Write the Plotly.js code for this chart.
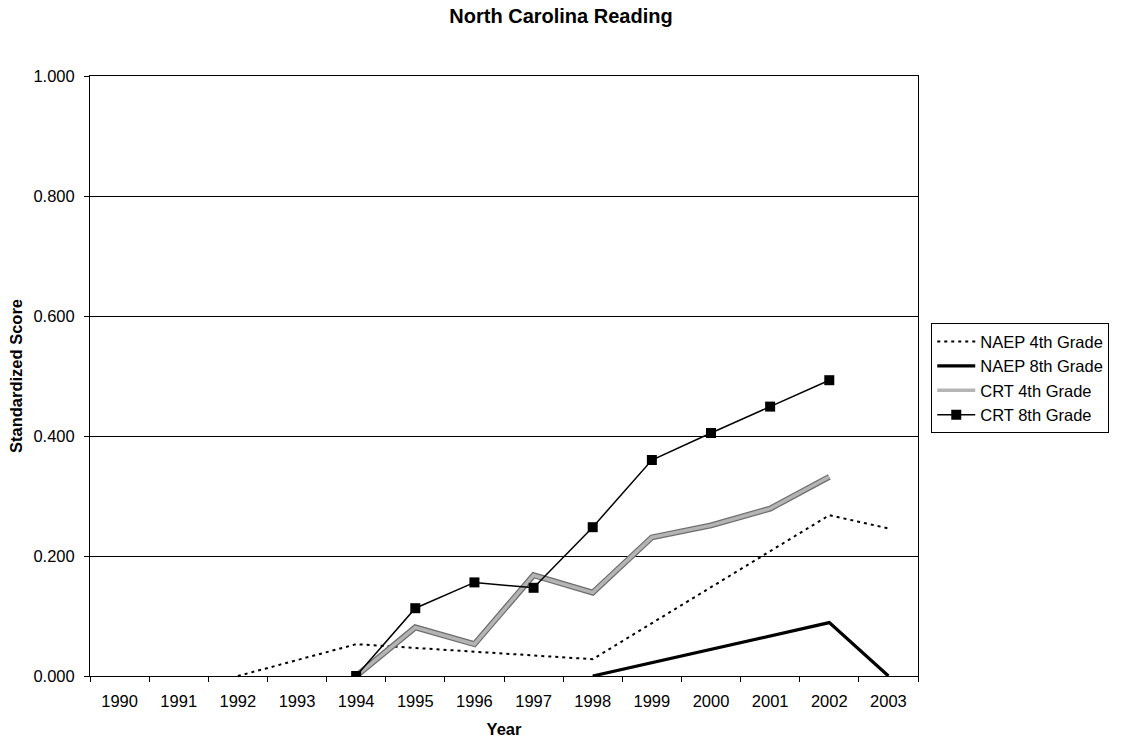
<!DOCTYPE html>
<html>
<head>
<meta charset="utf-8">
<script src="https://cdn.plot.ly/plotly-3.0.1.min.js"></script>
<style>
  html, body { margin: 0; padding: 0; background: #fff; }
  #chart { width: 1122px; height: 741px; }
</style>
</head>
<body>
<div id="chart"></div>
<script>
// Year categories shown on the x axis
const years = ['1990','1991','1992','1993','1994','1995','1996','1997','1998','1999','2000','2001','2002','2003'];

// NAEP assessment years and scores
const naep4Years = ['1992','1994','1998','2002','2003'];
const naep4Scores = [0.000, 0.053, 0.028, 0.268, 0.246];

const naep8Years = ['1998','2002','2003'];
const naep8Scores = [0.000, 0.089, 0.000];

// State criterion-referenced test scores
const crtYears = ['1994','1995','1996','1997','1998','1999','2000','2001','2002'];
const crt4Scores = [0.000, 0.081, 0.053, 0.168, 0.139, 0.231, 0.251, 0.279, 0.332];
const crt8Scores = [0.000, 0.113, 0.156, 0.147, 0.248, 0.360, 0.405, 0.449, 0.493];

const font = 'Liberation Sans, Arial, sans-serif';
const tickSize = 16.5;

const traces = [
  {
    name: 'NAEP 4th Grade', x: naep4Years, y: naep4Scores, type: 'scatter', mode: 'lines',
    line: { color: '#000', width: 2, dash: '3px,4px' }
  },
  {
    name: 'NAEP 8th Grade', x: naep8Years, y: naep8Scores, type: 'scatter', mode: 'lines',
    line: { color: '#000', width: 3.2 }
  },
  // darker casing under the textured grey CRT 4th line
  {
    name: 'CRT 4th Grade', x: crtYears, y: crt4Scores, type: 'scatter', mode: 'lines',
    line: { color: '#6e6e6e', width: 6 }, showlegend: false, hoverinfo: 'skip'
  },
  {
    name: 'CRT 4th Grade', x: crtYears, y: crt4Scores, type: 'scatter', mode: 'lines',
    line: { color: '#b4b4b4', width: 3.5 }
  },
  {
    name: 'CRT 8th Grade', x: crtYears, y: crt8Scores, type: 'scatter', mode: 'lines+markers',
    line: { color: '#000', width: 1.5 },
    marker: { symbol: 'square', size: 10, color: '#000' }
  }
];

const layout = {
  width: 1122, height: 741,
  margin: { l: 90, r: 204, t: 76, b: 65 },
  paper_bgcolor: '#fff', plot_bgcolor: '#fff',
  font: { family: font, size: tickSize, color: '#000' },
  title: {
    text: '<b>North Carolina Reading</b>',
    font: { family: font, size: 20, color: '#000' },
    x: 0.5, xanchor: 'center', y: 0.978, yanchor: 'middle'
  },
  xaxis: {
    type: 'category', categoryorder: 'array', categoryarray: years,
    range: [-0.5, 13.5],
    tickson: 'boundaries', ticks: 'outside', ticklen: 5, tickcolor: '#000',
    ticklabelstandoff: 10,
    showgrid: false, showline: true, linecolor: '#000', linewidth: 1, mirror: true,
    zeroline: false,
    tickfont: { family: font, size: tickSize, color: '#000' },
    title: { text: '<b>Year</b>', font: { family: font, size: tickSize, color: '#000' }, standoff: 14 }
  },
  yaxis: {
    range: [0, 1], dtick: 0.2, tick0: 0, tickformat: '.3f',
    ticks: 'outside', ticklen: 5, tickcolor: '#000',
    ticklabelstandoff: 6,
    showgrid: true, gridcolor: '#000', gridwidth: 1,
    showline: true, linecolor: '#000', linewidth: 1, mirror: true,
    zeroline: false,
    tickfont: { family: font, size: tickSize, color: '#000' },
    title: { text: '<b>Standardized Score</b>', font: { family: font, size: tickSize, color: '#000' }, standoff: 6 }
  },
  legend: {
    x: 1.016, xanchor: 'left', y: 0.588, yanchor: 'top',
    bordercolor: '#000', borderwidth: 1, bgcolor: '#fff',
    font: { family: font, size: tickSize, color: '#000' },
    tracegroupgap: 0, itemwidth: 38
  },
  showlegend: true
};

Plotly.newPlot('chart', traces, layout, { displayModeBar: false, staticPlot: true });
</script>
</body>
</html>
